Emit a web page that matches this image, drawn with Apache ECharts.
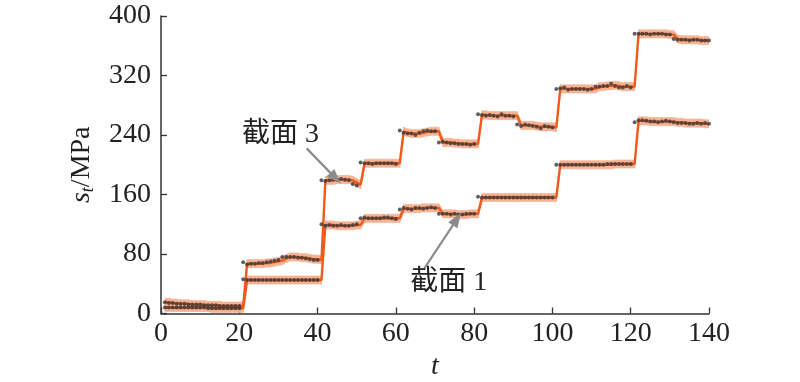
<!DOCTYPE html>
<html><head><meta charset="utf-8">
<script src="https://cdn.jsdelivr.net/npm/echarts@6/dist/echarts.min.js"></script>
<style>html,body{margin:0;padding:0;background:#fff}#c{width:800px;height:382px}</style>
</head><body><div id="c"></div>
<script>
// time steps
const tVals = [];
for (let i = 1; i <= 140; i++) tVals.push(i);
const xTicks = [0,20,40,60,80,100,120,140];
const yTicks = [0,80,160,240,320,400];

// 截面 1 : observed points
const obs1 = [8,8,8,8,8,8,8,8,8,8,8,7,7,7,7,7,7,7,7,7,
  46,45,45,45,45,45,45,45,45,45,45,45,45,45,45,45,45,45,45,45,
  120,118,119,118,118,119,118,118,119,120,
  128,129,128,128,128,128,129,129,128,127,
  140,142,141,140,142,142,141,142,143,142,
  134,134,134,133,134,133,133,134,134,134,
  157,156,156,156,156,156,156,156,156,156,156,156,156,156,156,156,156,156,156,156,
  200,200,200,200,200,200,200,200,200,200,200,200,200,201,201,201,201,201,201,201,
  257,260,260,259,258,258,257,258,259,258,257,256,256,256,255,255,256,255,256,255];
// 截面 1 : estimated curve
const est1 = [8,8,8,8,8,8,8,8,8,8,8,8,7,7,7,7,7,7,7,7,7,
  45,45,45,45,45,45,45,45,45,45,45,45,45,45,45,45,45,45,45,45,
  119,119,119,118,118,118,118,118,119,119,
  128,128,128,128,128,128,128,128,128,128,
  141,141,141,141,141,142,142,142,142,142,
  134,134,134,134,133,133,133,134,134,134,
  156,156,156,156,156,156,156,156,156,156,156,156,156,156,156,156,156,156,156,156,
  200,200,200,200,200,200,200,200,200,200,200,200,200,200,201,201,201,201,201,201,
  259,259,259,258,258,258,258,258,258,258,257,257,256,256,256,256,256,255,255];

// 截面 3 : observed points
const obs3 = [15,14,14,13,13,13,12,12,12,12,11,11,11,11,10,10,10,10,10,10,
  69,66,67,67,68,68,69,70,71,72,76,76,76,76,75,75,74,73,72,72,
  179,178,179,180,180,181,180,179,174,172,
  203,202,202,201,202,202,202,202,202,201,
  246,243,242,242,240,243,245,246,245,245,
  230,231,230,229,229,228,228,228,227,228,
  268,267,266,267,266,265,268,266,266,265,
  254,252,254,253,252,251,249,252,251,250,
  302,303,304,301,302,302,302,302,301,302,
  305,305,306,306,309,306,304,304,306,304,
  376,376,376,376,375,376,376,376,375,375,
  369,368,368,368,367,368,368,367,367,367];
// 截面 3 : estimated curve
const est3 = [15,15,14,14,13,13,13,12,12,12,12,11,11,11,11,10,10,10,10,10,10,
  67,67,67,67,67,68,68,69,70,71,74,76,76,76,75,75,74,73,73,72,
  179,179,179,180,180,180,180,179,176,173,
  202,202,202,202,202,202,202,202,202,202,
  245,243,242,242,242,243,244,245,245,245,
  230,230,230,229,229,228,228,228,228,228,
  267,267,266,266,266,266,266,266,266,266,
  253,253,253,253,252,251,251,251,251,250,
  302,302,302,302,302,302,302,302,302,302,
  305,305,306,306,307,306,305,305,305,305,
  376,376,376,376,376,376,376,376,375,375,
  369,368,368,368,368,368,367,367,367];
const bandHalf = 5.5; // uncertainty half-width (MPa)

// annotations (data coordinates)
const ann3 = {text:'截面 3', at:[30.5,240], from:[37.2,222], to:[44.6,182]};
const ann1 = {text:'截面 1', at:[73.5,41], from:[67.2,60], to:[75.6,127]};

const pts = arr => arr.map((v,i)=>[tVals[i], v]);
const bandData = arr => arr.map((v,i)=>[tVals[i], v - bandHalf, v + bandHalf]);

const ORANGE = '#f05a1a';
const BAND = '#f6b293';
const DOT = '#383838';
const FONT = '"Liberation Serif","Times New Roman",serif';
const CJK = '"Liberation Serif","Noto Sans CJK SC",serif';

function bandSeries(arr){
  const n = arr.length;
  return {type:'custom', data:bandData(arr), silent:true, z:1, clip:true,
    encode:{x:0, y:[1,2]},
    renderItem:function(params, api){
      const i = params.dataIndexInside;
      if (i >= n - 1) return null;
      const a0 = api.coord([api.value(0,i), api.value(1,i)]);
      const b0 = api.coord([api.value(0,i), api.value(2,i)]);
      const a1 = api.coord([api.value(0,i+1), api.value(1,i+1)]);
      const b1 = api.coord([api.value(0,i+1), api.value(2,i+1)]);
      return {type:'polygon', shape:{points:[a0,a1,b1,b0]},
        style:{fill:BAND, stroke:BAND, lineWidth:0.6}};
    }};
}
function arrowLine(a){
  return {symbol:['none','triangle'], symbolSize:[11,15], silent:true, animation:false,
    lineStyle:{color:'#8c8c8c', width:2.2, type:'solid'}, label:{show:false},
    data:[[{coord:a.from},{coord:a.to}]]};
}

const chart = echarts.init(document.getElementById('c'), null, {renderer:'canvas'});
chart.setOption({
  animation:false,
  grid:{left:161, right:91, top:16, bottom:68.5, containLabel:false, outerBoundsMode:'none'},
  xAxis:{type:'value', min:0, max:140, interval:20,
    name:'t', nameLocation:'middle', nameGap:34,
    nameTextStyle:{fontFamily:FONT, fontStyle:'italic', fontSize:28, color:'#222'},
    axisLine:{show:true, lineStyle:{color:'#333', width:1.5}},
    axisTick:{show:true, inside:true, length:6, lineStyle:{color:'#333', width:1.3}},
    axisLabel:{fontFamily:FONT, fontSize:28, color:'#222', margin:6,
      customValues: xTicks},
    splitLine:{show:false}},
  yAxis:{type:'value', min:0, max:400, interval:80,
    name:'{i|s}{s|t}{n|/MPa}', nameLocation:'middle', nameGap:64, nameRotate:90,
    nameTextStyle:{rich:{
      i:{fontFamily:FONT, fontStyle:'italic', fontSize:28, color:'#222', lineHeight:30},
      s:{fontFamily:FONT, fontStyle:'italic', fontSize:18, color:'#222', verticalAlign:'bottom', lineHeight:22},
      n:{fontFamily:FONT, fontSize:28, color:'#222', lineHeight:30}}},
    axisLine:{show:true, lineStyle:{color:'#333', width:1.5}},
    axisTick:{show:true, inside:true, length:6, lineStyle:{color:'#333', width:1.3}},
    axisLabel:{fontFamily:FONT, fontSize:28, color:'#222', margin:10,
      customValues: yTicks},
    splitLine:{show:false}},
  series:[
    bandSeries(est1),
    bandSeries(est3),
    {type:'line', name:'截面 1 估计', data:pts(est1), symbol:'none', z:3,
      lineStyle:{color:ORANGE, width:2.4}, markLine:arrowLine(ann1)},
    {type:'line', name:'截面 3 估计', data:pts(est3), symbol:'none', z:3,
      lineStyle:{color:ORANGE, width:2.4}, markLine:arrowLine(ann3)},
    {type:'scatter', name:'截面 1', data:pts(obs1), symbol:'circle', symbolSize:4, z:4,
      itemStyle:{color:DOT}},
    {type:'scatter', name:'截面 3', data:pts(obs3), symbol:'circle', symbolSize:4, z:4,
      itemStyle:{color:DOT}}
  ]
});
function placeText(){
  const g = [ann3, ann1].map(a=>{
    const p = chart.convertToPixel({gridIndex:0}, a.at);
    return {type:'text', x:p[0], y:p[1], z:10,
      style:{text:a.text, fontFamily:CJK, fontSize:28, fill:'#222', align:'center', verticalAlign:'middle'}};
  });
  chart.setOption({graphic:g});
}
placeText();
</script></body></html>
